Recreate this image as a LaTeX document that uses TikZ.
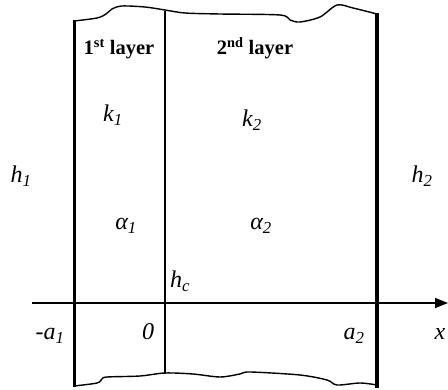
\documentclass[tikz,border=0pt]{standalone}
\usepackage{fontspec}
\setmainfont{Liberation Serif}
\usetikzlibrary{arrows.meta}

\begin{document}
\begin{tikzpicture}[x=1pt,y=-1pt,
  wall/.style={line width=3pt},
  edge/.style={line width=1.4pt,line join=round},
  axis/.style={line width=1.5pt,-{Triangle[length=13pt,width=10pt]}},
  lbl/.style={anchor=base,inner sep=0pt,font=\fontsize{24}{26}\selectfont\itshape},
  layer/.style={anchor=base,inner sep=0pt,font=\fontsize{20.5}{23}\selectfont\bfseries}
]
\useasboundingbox (0,0) rectangle (448,390);
% walls
\coordinate (lt) at (74,20);  \coordinate (lb) at (74,387);
\coordinate (mt) at (165,11); \coordinate (mb) at (165,374);
\coordinate (rt) at (377,13); \coordinate (rb) at (377,388);
\draw[wall] (lt)--(lb);
\draw[wall,line width=2.6pt] (mt)--(mb);
\draw[wall,line width=3.4pt] (rt)--(rb);
% broken edges
\draw[edge] plot[smooth,tension=0.5] coordinates {(74,21) (97,18) (106,14) (112,9) (122,6) (145,7) (165,10)
  (185,13) (220,14) (280,15) (290,20) (300,22) (320,17) (337,5) (353,8) (377,14)};
\draw[edge] plot[smooth,tension=0.5] coordinates {(74,386) (97,383) (102,379) (107,377) (140,376) (165,373)
  (193,374) (220,377) (240,374) (250,372) (300,375) (327,380) (337,385) (360,383) (377,385)};
% axis
\coordinate (xs) at (32,303); \coordinate (xe) at (448,303);
\draw[axis] (xs)--(xe);
% labels
\node[layer] (lay1) at (119,55) {1\textsuperscript{st} layer};
\node[layer] (lay2) at (255,55) {2\textsuperscript{nd} layer};
\node[lbl] (k1) at (113,122) {k\textsubscript{1}};
\node[lbl] (k2) at (252,127) {k\textsubscript{2}};
\node[lbl] (h1) at (21,183) {h\textsubscript{1}};
\node[lbl] (h2) at (422,183) {h\textsubscript{2}};
\node[lbl] (al1) at (126,230) {α\textsubscript{1}};
\node[lbl] (al2) at (261,230) {α\textsubscript{2}};
\node[lbl] (hc) at (180,288) {h\textsubscript{c}};
\node[lbl] (ma1) at (50,340) {-a\textsubscript{1}};
\node[lbl] (zero) at (148,340) {0};
\node[lbl] (a2) at (354,340) {a\textsubscript{2}};
\node[lbl] (xl) at (440,340) {x};
\end{tikzpicture}
\end{document}
